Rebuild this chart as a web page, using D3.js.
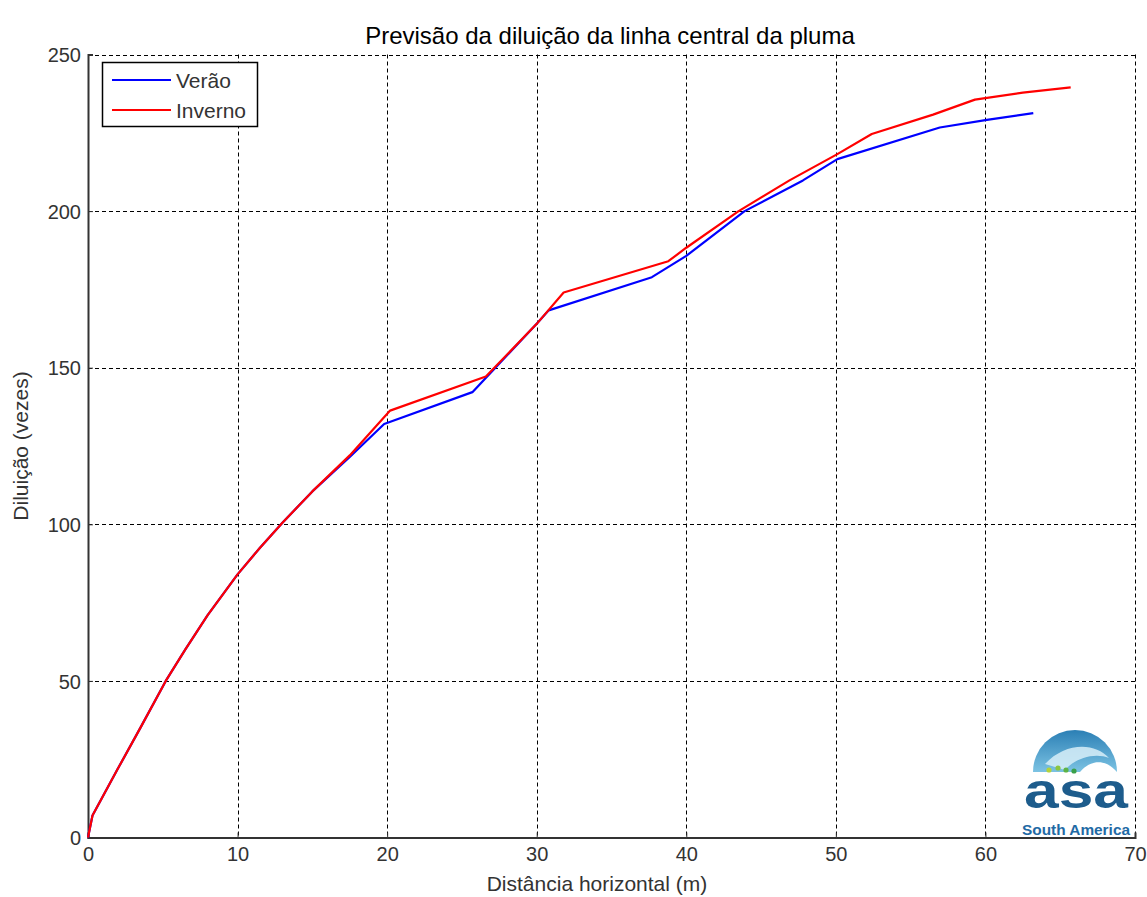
<!DOCTYPE html>
<html>
<head>
<meta charset="utf-8">
<script src="https://cdn.jsdelivr.net/npm/d3@7"></script>
<style>
  body { margin: 0; background: #fff; }
  svg { display: block; font-family: "Liberation Sans", Arial, sans-serif; }
</style>
</head>
<body>
<svg id="chart" width="1147" height="897"></svg>
<script>
// ---- data ----
const verao_x = [0, 0.3, 2, 3.5, 5.2, 6.5, 8, 10, 11.5, 13, 15, 17.5, 19.8, 25.7, 30.0, 30.8, 37.7, 40, 43.9, 47.8, 50.1, 56.95, 60.1, 63.2];
const verao_y = [0, 7, 22, 35, 50, 60, 71, 84, 92.5, 100.5, 110.5, 121.5, 132, 142.2, 164, 168.3, 178.9, 185.7, 200, 209.8, 216.6, 226.7, 229.1, 231.3];
const inverno_x = [0, 0.3, 2, 3.5, 5.2, 6.5, 8, 10, 11.5, 13, 15, 17.5, 20.2, 26.6, 30.0, 31.8, 38.8, 40, 43.5, 46.9, 50.1, 52.4, 56.5, 59.3, 62.5, 65.7];
const inverno_y = [0, 7, 22, 35, 50, 60, 71, 84, 92.5, 100.5, 110.5, 122, 136.3, 147.2, 164, 174, 184, 188.3, 200, 209.8, 218.2, 224.6, 230.8, 235.6, 237.8, 239.5];
const xTicks = [0, 10, 20, 30, 40, 50, 60, 70];
const yTicks = [0, 50, 100, 150, 200, 250];
const seriesNames = ["Verão", "Inverno"];
const seriesColors = ["#0000ff", "#ff0000"];
const titleText = "Previsão da diluição da linha central da pluma";
const xLabel = "Distância horizontal (m)";
const yLabel = "Diluição (vezes)";

// ---- layout ----
const svg = d3.select("#chart");
const pL = 88, pR = 1135, pT = 54.5, pB = 837.5;
const x = d3.scaleLinear().domain([0, 70]).range([pL, pR]);
const y = d3.scaleLinear().domain([0, 250]).range([pB, pT]);

// grid
const grid = svg.append("g").attr("stroke", "#000").attr("stroke-width", 1).attr("stroke-dasharray", "4,3");
grid.selectAll("line.gx").data(xTicks.filter(d => d > 0)).enter().append("line")
  .attr("x1", d => Math.round(x(d)) + 0.5).attr("x2", d => Math.round(x(d)) + 0.5)
  .attr("y1", pT).attr("y2", pB);
grid.selectAll("line.gy").data(yTicks.filter(d => d > 0)).enter().append("line")
  .attr("x1", pL).attr("x2", pR)
  .attr("y1", d => Math.round(y(d)) + 0.5).attr("y2", d => Math.round(y(d)) + 0.5);

// axes
const xAxis = d3.axisBottom(x).tickValues(xTicks).tickSize(-5).tickPadding(9).tickFormat(d3.format("d"));
const yAxis = d3.axisLeft(y).tickValues(yTicks).tickSize(-5).tickPadding(7).tickFormat(d3.format("d"));
const gx = svg.append("g").attr("transform", `translate(0,${pB})`).call(xAxis);
const gy = svg.append("g").attr("transform", `translate(${pL},0)`).call(yAxis);
[gx, gy].forEach(g => {
  g.select(".domain").attr("stroke", "#333").attr("stroke-width", 2);
  g.selectAll(".tick line").attr("stroke", "#333");
  g.selectAll(".tick text").attr("fill", "#333").style("font-size", "20px")
    .style("font-family", "'Liberation Sans', Arial, sans-serif");
});
gy.selectAll(".tick text").attr("dy", "0.36em");

// lines
const line = d3.line().x(d => x(d[0])).y(d => y(d[1]));
const series = [
  d3.zip(verao_x, verao_y),
  d3.zip(inverno_x, inverno_y)
];
series.forEach((s, i) => {
  svg.append("path").datum(s).attr("d", line)
    .attr("fill", "none").attr("stroke", seriesColors[i]).attr("stroke-width", 2.2)
    .attr("stroke-linejoin", "round");
});

// title and labels
svg.append("text").attr("x", 610).attr("y", 44).attr("text-anchor", "middle")
  .style("font-size", "24px").attr("fill", "#000").text(titleText);
svg.append("text").attr("x", 597).attr("y", 891).attr("text-anchor", "middle")
  .style("font-size", "21px").attr("fill", "#333").text(xLabel);
svg.append("text").attr("transform", `translate(28,${(pT + pB) / 2}) rotate(-90)`)
  .attr("text-anchor", "middle").style("font-size", "21px").attr("fill", "#333").text(yLabel);

// legend
const lg = svg.append("g");
lg.append("rect").attr("x", 102.5).attr("y", 62.5).attr("width", 155).attr("height", 64)
  .attr("fill", "#fff").attr("stroke", "#000").attr("stroke-width", 1.5);
seriesNames.forEach((n, i) => {
  const yy = 80 + i * 30;
  lg.append("line").attr("x1", 112).attr("x2", 171).attr("y1", yy).attr("y2", yy)
    .attr("stroke", seriesColors[i]).attr("stroke-width", 2.2);
  lg.append("text").attr("x", 176).attr("y", yy).attr("dy", "0.36em")
    .style("font-size", "21px").attr("fill", "#333").text(n);
});

// logo (ASA South America)
const logo = svg.append("g");
const defs = svg.append("defs");
const grad = defs.append("linearGradient").attr("id", "dome").attr("x1", 0).attr("y1", 0).attr("x2", 0).attr("y2", 1);
grad.append("stop").attr("offset", "0%").attr("stop-color", "#2b7fb5");
grad.append("stop").attr("offset", "100%").attr("stop-color", "#7cc3e3");
const cx = 1075, cy = 772, r = 42;
logo.append("path").attr("d", `M${cx - r},${cy} A${r},${r} 0 0 1 ${cx + r},${cy} Z`).attr("fill", "url(#dome)");
logo.append("path").attr("d", `M${cx - 30},${cy - 8} C${cx - 10},${cy - 30} ${cx + 20},${cy - 30} ${cx + 34},${cy - 14} C${cx + 20},${cy - 20} ${cx},${cy - 14} ${cx - 10},${cy - 2} Z`)
  .attr("fill", "#d8eef8").attr("opacity", 0.85);
logo.append("path").attr("d", `M${cx + 5},${cy} C${cx + 15},${cy - 12} ${cx + 30},${cy - 14} ${cx + r},${cy} Z`).attr("fill", "#ffffff");
[[1049, 770, "#b5d33a"], [1058, 768, "#8cc63f"], [1066, 770, "#5cb346"], [1074, 771, "#3aa04a"]].forEach(d => {
  logo.append("circle").attr("cx", d[0]).attr("cy", d[1]).attr("r", 2.6).attr("fill", d[2]);
});
logo.append("text").attr("x", 1076).attr("y", 808).attr("text-anchor", "middle")
  .style("font-size", "50px").style("font-weight", "bold").style("font-family", "'Liberation Sans', Arial, sans-serif")
  .attr("fill", "#1d5c8c").attr("textLength", 104).attr("lengthAdjust", "spacingAndGlyphs").text("asa");
logo.append("text").attr("x", 1076).attr("y", 835).attr("text-anchor", "middle")
  .style("font-size", "15px").style("font-weight", "bold").style("font-family", "'Liberation Sans Narrow', 'Liberation Sans', Arial, sans-serif")
  .attr("fill", "#1f6aa5").attr("textLength", 108).attr("lengthAdjust", "spacingAndGlyphs").text("South America");
</script>
</body>
</html>
